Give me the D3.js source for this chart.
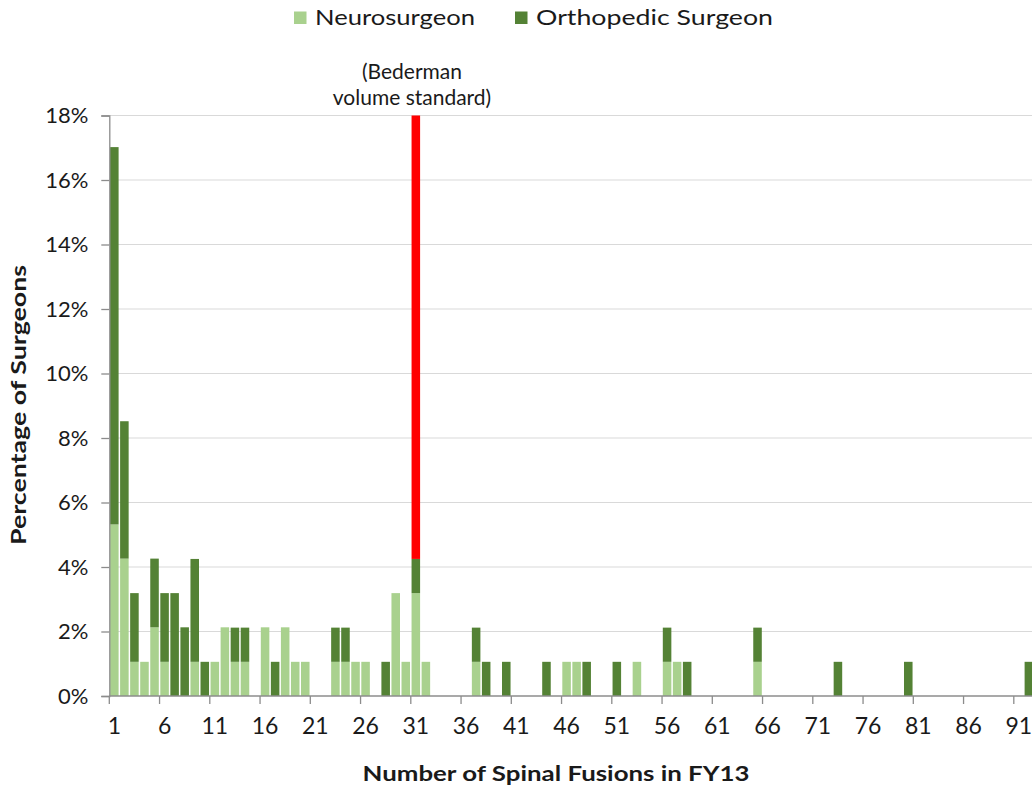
<!DOCTYPE html>
<html><head><meta charset="utf-8">
<script src="https://cdn.jsdelivr.net/npm/d3@7"></script>
<style>
body{margin:0;background:#fff}
text{font-family:Lato,"Open Sans",sans-serif;fill:#1a1a1a}
</style>
</head><body>
<svg id="chart" width="1032" height="786"></svg>
<script>
// ---- data ----
const categories = [1,2,3,4,5,6,7,8,9,10,11,12,13,14,15,16,17,18,19,20,21,22,23,24,25,26,27,28,29,30,31,32,33,34,35,36,37,38,39,40,41,42,43,44,45,46,47,48,49,50,51,52,53,54,55,56,57,58,59,60,61,62,63,64,65,66,67,68,69,70,71,72,73,74,75,76,77,78,79,80,81,82,83,84,85,86,87,88,89,90,91,92];
const neurosurgeon = [5.32,4.26,1.06,1.06,2.13,1.06,0,0,1.06,0, 1.06,2.13,1.06,1.06,0,2.13,0,2.13,1.06,1.06, 0,0,1.06,1.06,1.06,1.06,0,0,3.19,1.06, 3.19,1.06,0,0,0,0,1.06,0,0,0, 0,0,0,0,0,1.06,1.06,0,0,0, 0,0,1.06,0,0,1.06,1.06,0,0,0, 0,0,0,0,1.06,0,0,0,0,0, 0,0,0,0,0,0,0,0,0,0, 0,0,0,0,0,0,0,0,0,0, 0,0];
const orthopedic = [11.70,4.26,2.13,0,2.13,2.13,3.19,2.13,3.19,1.06, 0,0,1.06,1.06,0,0,1.06,0,0,0, 0,0,1.06,1.06,0,0,0,1.06,0,0, 1.06,0,0,0,0,0,1.06,1.06,0,1.06, 0,0,0,1.06,0,0,0,1.06,0,0, 1.06,0,0,0,0,1.06,0,1.06,0,0, 0,0,0,0,1.06,0,0,0,0,0, 0,0,1.06,0,0,0,0,0,0,1.06, 0,0,0,0,0,0,0,0,0,0, 0,1.06];
const seriesNames = ["Neurosurgeon","Orthopedic Surgeon"];
const xTickLabels = [1,6,11,16,21,26,31,36,41,46,51,56,61,66,71,76,81,86,91];
const yTicks = [0,2,4,6,8,10,12,14,16,18];
const standardCategory = 31;
const standardTop = 18;
const annotationLines = ["(Bederman","volume standard)"];
const xTitle = "Number of Spinal Fusions in FY13";
const yTitle = "Percentage of Surgeons";

// ---- styles ----
const colors = ["#A9D18E","#548235"];
const axisColor = "#8c8c8c";
const gridColor = "#d9d9d9";
const plotLeft = 109.3, plotBottom = 696, plotTop = 115.5, step = 10.05;

const svg = d3.select("#chart");

const x = d3.scaleBand().domain(categories)
  .range([plotLeft, plotLeft + step*categories.length])
  .paddingInner(0.15).paddingOuter(0.075);
const y = d3.scaleLinear().domain([0,18]).range([plotBottom, plotTop]);

// gridlines
svg.append("g").selectAll("line").data(yTicks.filter(d=>d>0)).join("line")
  .attr("x1", plotLeft).attr("x2", 1032)
  .attr("y1", d=>y(d)).attr("y2", d=>y(d))
  .attr("stroke", gridColor).attr("stroke-width", 1.2);

// stacked bars
const rows = categories.map((c,i)=>({cat:c, Neurosurgeon:neurosurgeon[i], "Orthopedic Surgeon":orthopedic[i]}));
const stack = d3.stack().keys(seriesNames)(rows);
svg.append("g").selectAll("g").data(stack).join("g")
  .attr("fill",(d,i)=>colors[i])
  .selectAll("rect").data(d=>d.filter(p=>p[1]-p[0]>0)).join("rect")
  .attr("x", d=>x(d.data.cat))
  .attr("width", x.bandwidth())
  .attr("y", d=>y(d[1]))
  .attr("height", d=>y(d[0])-y(d[1]));

// red standard bar
const stdIdx = categories.indexOf(standardCategory);
const stdBase = neurosurgeon[stdIdx] + orthopedic[stdIdx];
svg.append("rect")
  .attr("x", x(standardCategory)).attr("width", x.bandwidth())
  .attr("y", y(standardTop)).attr("height", y(stdBase)-y(standardTop))
  .attr("fill", "#FF0000");

// y axis
const yAxis = svg.append("g").attr("transform",`translate(${plotLeft},0)`)
  .call(d3.axisLeft(y).tickValues(yTicks).tickFormat(d=>d+"%").tickSize(8).tickPadding(13));
yAxis.select(".domain").attr("stroke", axisColor).attr("stroke-width",1.3);
yAxis.selectAll(".tick line").attr("stroke", axisColor).attr("stroke-width",1.3);
yAxis.selectAll(".tick text").style("font-size","22px").attr("fill","#1a1a1a");

// x axis
const xAxis = svg.append("g").attr("transform",`translate(0,${plotBottom})`)
  .call(d3.axisBottom(x).tickValues(xTickLabels).tickSize(0).tickPadding(22));
xAxis.select(".domain").attr("stroke", axisColor).attr("stroke-width",1.3)
  .attr("d", `M${plotLeft},0H1032`);
xAxis.selectAll(".tick text").style("font-size","23px").attr("fill","#1a1a1a");
const gapHalf = (x.step()-x.bandwidth())/2;
svg.append("g").selectAll("line").data(xTickLabels).join("line")
  .attr("x1", d=>x(d)-gapHalf).attr("x2", d=>x(d)-gapHalf)
  .attr("y1", plotBottom).attr("y2", plotBottom+8)
  .attr("stroke", axisColor).attr("stroke-width",1.3);

// axis titles
svg.append("text").attr("x", 556).attr("y", 781).attr("text-anchor","middle")
  .style("font-size","21px").style("font-weight","bold")
  .attr("textLength", 387).attr("lengthAdjust","spacingAndGlyphs").text(xTitle);
svg.append("text").attr("transform","translate(26,405) rotate(-90)").attr("text-anchor","middle")
  .style("font-size","21px").style("font-weight","bold")
  .attr("textLength", 280).attr("lengthAdjust","spacingAndGlyphs").text(yTitle);

// annotation
svg.append("g").selectAll("text").data(annotationLines).join("text")
  .attr("x", 412).attr("y",(d,i)=>79+i*26).attr("text-anchor","middle")
  .style("font-size","21px").text(d=>d);

// legend
const legendX = [294, 515], legendTextW = [160, 237];
const lg = svg.append("g").selectAll("g").data(seriesNames).join("g");
lg.append("rect").attr("x",(d,i)=>legendX[i]).attr("y",11.5).attr("width",12.5).attr("height",12.5)
  .attr("fill",(d,i)=>colors[i]);
lg.append("text").attr("x",(d,i)=>legendX[i]+21).attr("y",25)
  .style("font-size","22px").attr("textLength",(d,i)=>legendTextW[i]).attr("lengthAdjust","spacingAndGlyphs")
  .text(d=>d);
</script>
</body></html>
